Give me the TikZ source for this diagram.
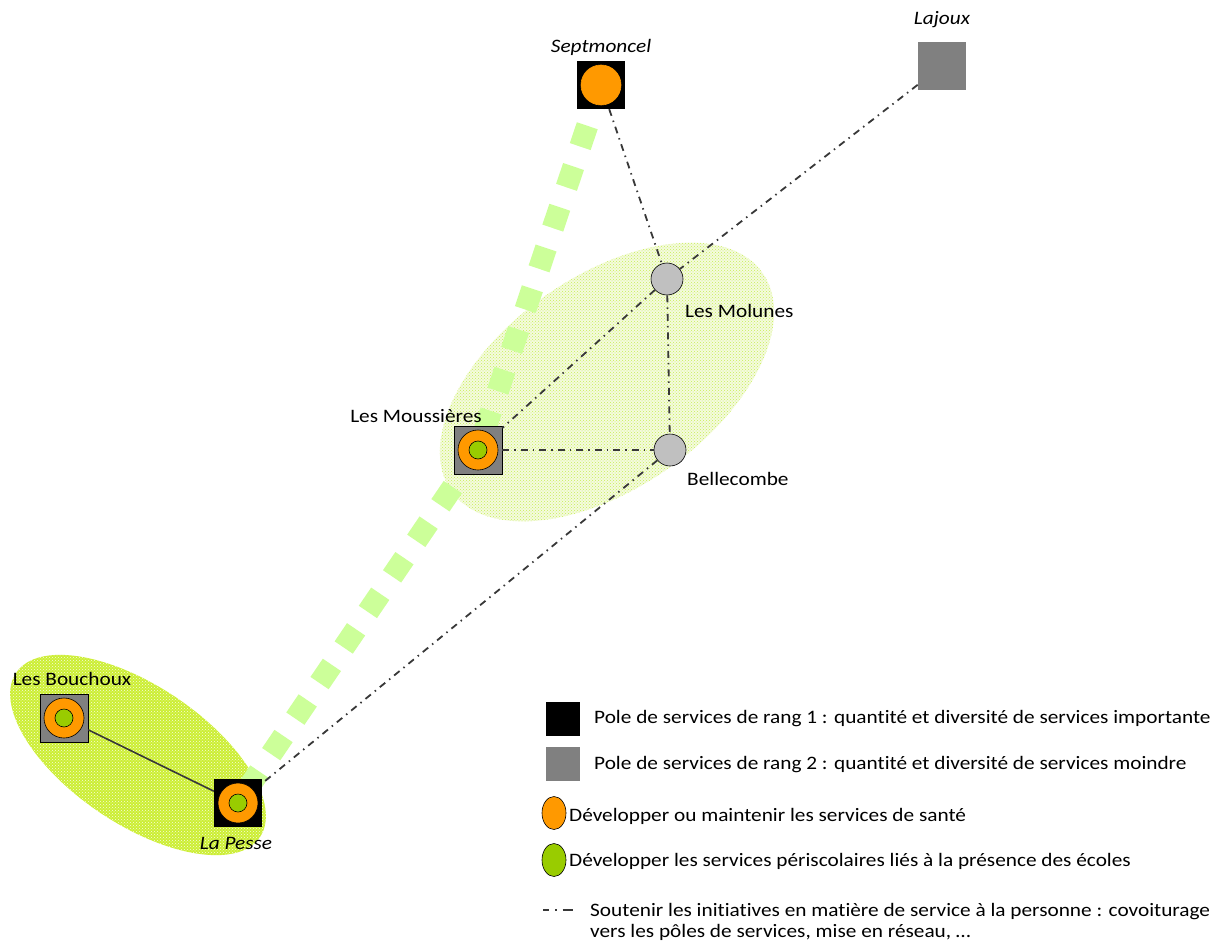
\documentclass[tikz,border=0pt]{standalone}
\usepackage{fontspec}
\setmainfont{Carlito}[FakeStretch=1.12, Ligatures=NoCommon]
\usepackage{tikz}
\usetikzlibrary{patterns,backgrounds,shapes.geometric}
\definecolor{sante}{RGB}{255,153,0}
\definecolor{ecole}{RGB}{153,204,0}
\definecolor{rang2}{RGB}{128,128,128}
\definecolor{village}{RGB}{192,192,192}
\definecolor{axe}{RGB}{204,255,153}
\definecolor{zonefond}{RGB}{244,251,222}
\definecolor{zonepoint}{RGB}{200,238,85}
\definecolor{zonepleine}{RGB}{204,238,51}
\definecolor{trait}{RGB}{56,56,56}
\tikzset{
  pole1/.style={rectangle, fill=black, minimum size=48pt, inner sep=0pt},
  pole2/.style={rectangle, draw=black, line width=0.6pt, fill=rang2, minimum size=48pt, inner sep=0pt},
  sante/.style={circle, draw=black, line width=0.6pt, fill=sante, minimum size=40pt, inner sep=0pt},
  ecole/.style={circle, draw=black, line width=0.6pt, fill=ecole, minimum size=18pt, inner sep=0pt},
  commune/.style={circle, draw=black, line width=0.6pt, fill=village, minimum size=32pt, inner sep=0pt},
  lien/.style={draw=trait, line width=1.8pt, dash pattern=on 7pt off 5pt on 1.5pt off 5pt},
  lbl/.style={font=\fontsize{19}{21}\selectfont, inner sep=0pt},
}
\begin{document}
\begin{tikzpicture}[x=1pt,y=-1pt]
  \useasboundingbox (0,0) rectangle (1223,947);

  % Draw the poles
  \node[pole1] (sept) at (601,85) {};
  \node[sante, draw=sante] (sept-s) at (sept) {};
  \node[pole2, draw=none] (lajoux) at (942,66) {};
  \node[commune] (molunes) at (667,279) {};
  \node[commune] (belle) at (670,450) {};
  \node[pole2] (mous) at (478,450) {};
  \node[sante] (mous-s) at (mous) {};
  \node[ecole] (mous-e) at (mous) {};
  \node[pole2] (bouch) at (64,718) {};
  \node[sante] (bouch-s) at (bouch) {};
  \node[ecole] (bouch-e) at (bouch) {};
  \node[pole1] (pesse) at (238,803) {};
  \node[sante] (pesse-s) at (pesse) {};
  \node[ecole] (pesse-e) at (pesse) {};

  % Label the poles
  \node[lbl] (sept-l) at (601,47) {\itshape Septmoncel};
  \node[lbl] (lajoux-l) at (942,20) {\itshape Lajoux};
  \node[lbl, anchor=west] (molunes-l) at (685,311) {Les Molunes};
  \node[lbl, anchor=west] (belle-l) at (687,479) {Bellecombe};
  \node[lbl] (mous-l) at (416,416) {Les Moussières};
  \node[lbl] (bouch-l) at (72,679) {Les Bouchoux};
  \node[lbl] (pesse-l) at (236,843) {\itshape La Pesse};

  % Zones and main axis behind the poles
  \begin{scope}[on background layer]
    \fill[zonefond, rotate around={35:(607,382)}] (607,382) ellipse [x radius=190pt, y radius=106pt];
    \fill[pattern=crosshatch dots, pattern color=zonepoint, rotate around={35:(607,382)}] (607,382) ellipse [x radius=190pt, y radius=106pt];
    \fill[zonepleine, rotate around={-34:(138,755)}] (138,755) ellipse [x radius=147pt, y radius=69pt];
    \fill[pattern=crosshatch dots, pattern color=white!85!zonepleine, rotate around={-34:(138,755)}] (138,755) ellipse [x radius=147pt, y radius=69pt];
    \draw[axe, line width=22pt, dash pattern=on 22pt off 21pt] (sept.center) -- (mous.center) -- (pesse.center);
  \end{scope}

  % Connect the poles
  \draw[lien] (sept) -- (molunes);
  \draw[lien] (lajoux) -- (molunes);
  \draw[lien] (molunes) -- (mous);
  \draw[lien] (molunes) -- (belle);
  \draw[lien] (mous) -- (belle);
  \draw[lien] (belle) -- (pesse);
  \draw[trait, line width=1.6pt] (bouch) -- (pesse);

  % Draw the Legend
  \node[pole1, minimum size=34pt] (leg1) at (563,719) {};
  \node[lbl, anchor=west] (leg1-t) at (594,719) {Pole de services de rang 1 : quantité et diversité de services importante};
  \node[pole2, draw=none, minimum size=34pt] (leg2) at (563,764) {};
  \node[lbl, anchor=west] (leg2-t) at (594,765) {Pole de services de rang 2 : quantité et diversité de services moindre};
  \node[sante, ellipse, minimum width=24pt, minimum height=33pt] (leg3) at (554,813) {};
  \node[lbl, anchor=west] (leg3-t) at (569,816) {Développer ou maintenir les services de santé};
  \node[ecole, ellipse, minimum width=24pt, minimum height=33pt] (leg4) at (554,860) {};
  \node[lbl, anchor=west] (leg4-t) at (569,861) {Développer les services périscolaires liés à la présence des écoles};
  \coordinate (leg5a) at (543,910);
  \coordinate (leg5b) at (573,910);
  \draw[lien, dash pattern=on 6pt off 6pt on 1.5pt off 6pt on 12pt] (leg5a) -- (leg5b);
  \node[lbl, anchor=north west, align=left] (leg5-t) at (590,903) {Soutenir les initiatives en matière de service à la personne : covoiturage\\vers les pôles de services, mise en réseau, …};
\end{tikzpicture}
\end{document}
